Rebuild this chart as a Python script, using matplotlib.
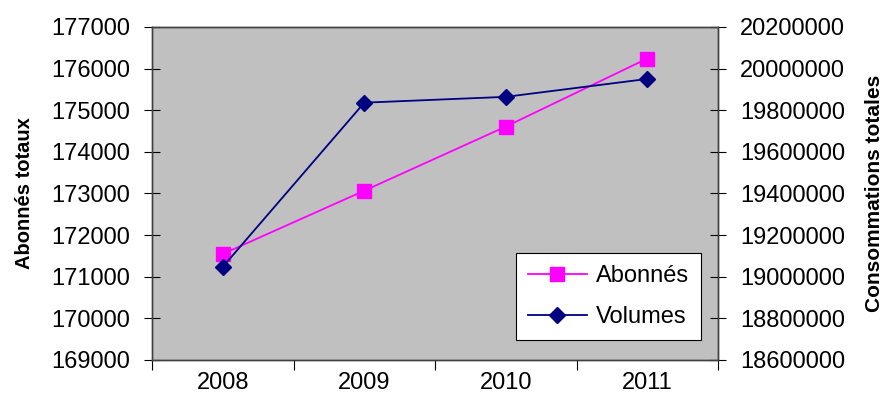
import matplotlib.pyplot as plt
from matplotlib.ticker import FixedLocator, MultipleLocator

plt.rcParams['font.family'] = ['Liberation Sans', 'DejaVu Sans']

years = ['2008', '2009', '2010', '2011']
abonnes = [171545, 173065, 174605, 176240]
volumes = [19047000, 19836000, 19864000, 19950000]

fig = plt.figure(figsize=(8.85, 4.08), dpi=100)
ax = fig.add_axes([0.1718, 0.118, 0.6395, 0.816])
ax.set_facecolor('#C0C0C0')

x = list(range(len(years)))
l1, = ax.plot(x, abonnes, color='#FF00FF', marker='s', markersize=10, linewidth=1.3, label='Abonnés')
ax.set_xlim(-0.5, 3.5)
ax.set_ylim(169000, 177000)
ax.yaxis.set_major_locator(MultipleLocator(1000))
ax.xaxis.set_major_locator(FixedLocator([-0.5, 0.5, 1.5, 2.5, 3.5]))
ax.xaxis.set_minor_locator(FixedLocator(x))
ax.set_xticklabels([], minor=False)
ax.set_xticklabels(years, minor=True)
ax.tick_params(axis='x', which='major', direction='out', length=7, width=0.8)
ax.tick_params(axis='x', which='minor', length=0, pad=9, labelsize=17)
ax.tick_params(axis='y', direction='inout', length=12, width=0.8, labelsize=17, pad=10)
ax.set_ylabel('Abonnés totaux', fontsize=14.5, fontweight='bold', labelpad=12)

ax2 = ax.twinx()
l2, = ax2.plot(x, volumes, color='#000080', marker='D', markersize=8, linewidth=1.3, label='Volumes')
ax2.set_ylim(18600000, 20200000)
ax2.yaxis.set_major_locator(MultipleLocator(200000))
ax2.ticklabel_format(axis='y', style='plain', useOffset=False)
ax2.tick_params(axis='y', direction='inout', length=12, width=0.8, labelsize=17, pad=10)
ax2.set_ylabel('Consommations totales', fontsize=15, fontweight='bold', labelpad=14)

for a in (ax, ax2):
    for s in a.spines.values():
        s.set_color('#404040')
        s.set_linewidth(1.0)

leg = ax2.legend(handles=[l1, l2], loc='lower right', bbox_to_anchor=(0.97, 0.06),
                 fontsize=17, frameon=True, fancybox=False, framealpha=1,
                 edgecolor='black', handlelength=2.5, handletextpad=0.4,
                 borderpad=0.5, labelspacing=0.8, borderaxespad=0)
leg.get_frame().set_linewidth(0.8)

fig.savefig('out.png', dpi=100)
